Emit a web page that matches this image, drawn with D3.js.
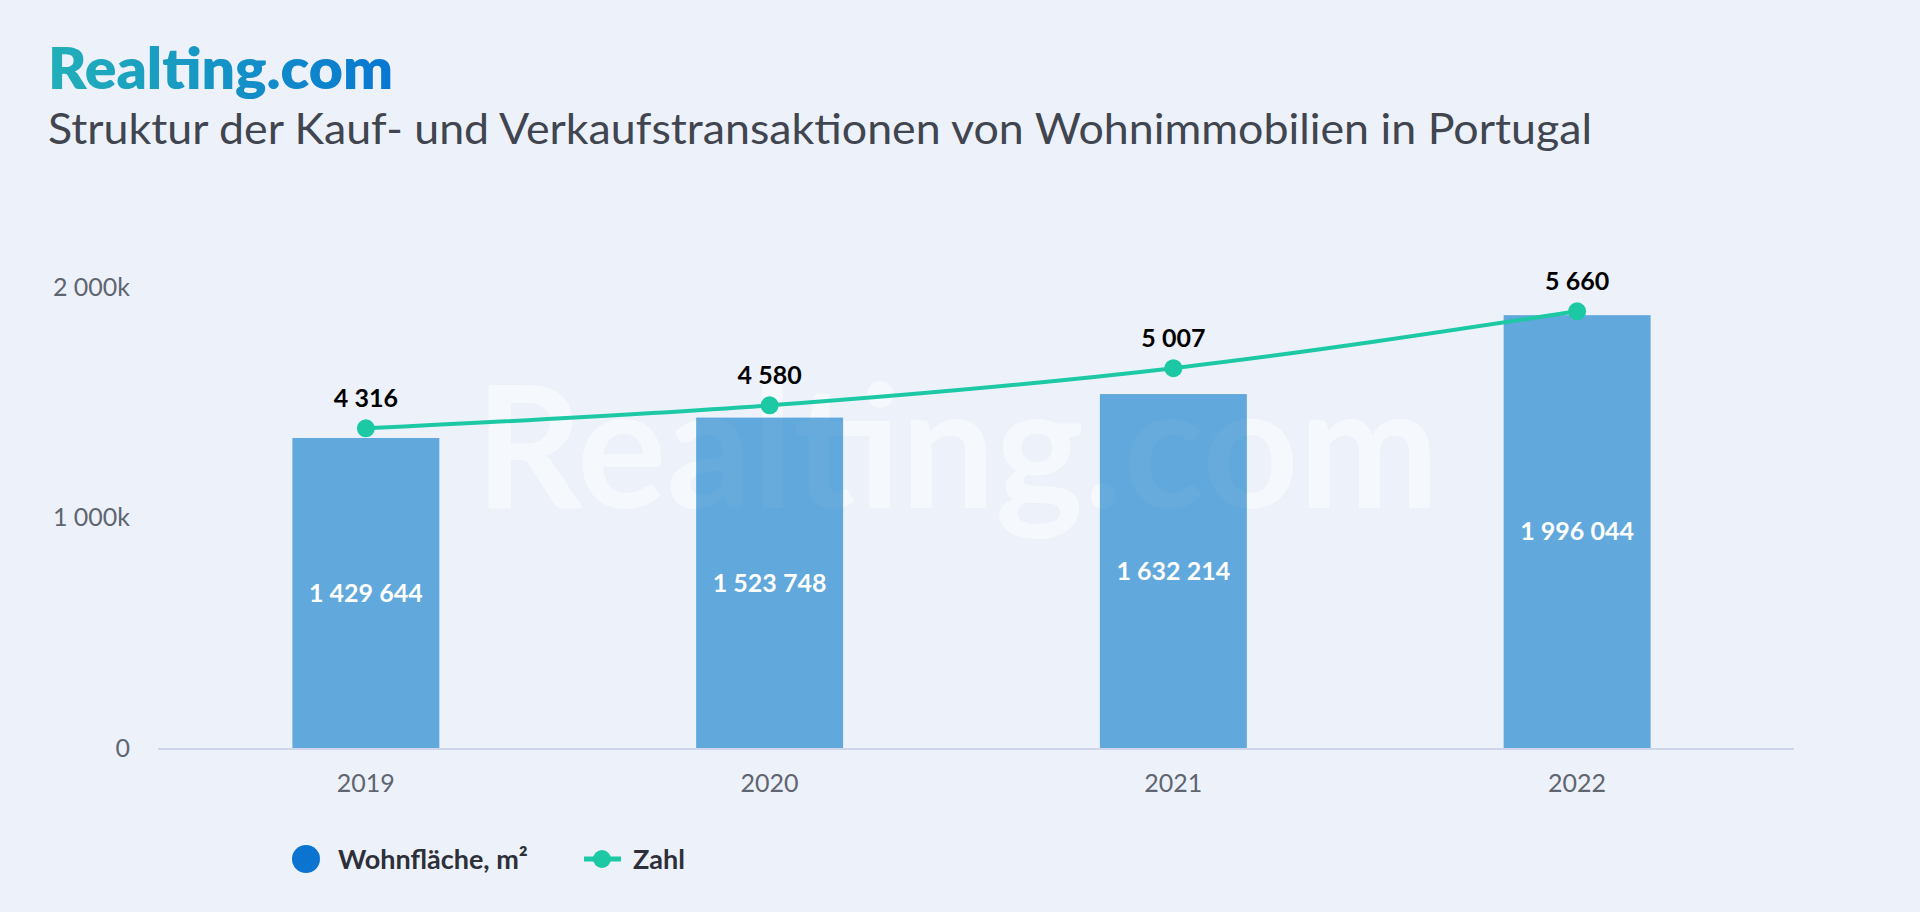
<!DOCTYPE html>
<html>
<head>
<meta charset="utf-8">
<script src="https://cdn.jsdelivr.net/npm/d3@7"></script>
<style>
body{margin:0;background:#edf2fa;}
svg{display:block;font-family:Lato,"Noto Sans",sans-serif;}
</style>
</head>
<body>
<script>
// data
var years=["2019","2020","2021","2022"];
var area=[1429644,1523748,1632214,1996044];   // Wohnfläche, m²
var count=[4316,4580,5007,5660];               // Zahl
var yTicks=[0,1000000,2000000];
var yTickLabels=["0","1 000k","2 000k"];

var width=1920, height=912;
var fmt=function(v){return d3.format(",")(v).replace(/,/g," ");};

var svg=d3.select("body").append("svg")
    .attr("width",width)
    .attr("height",height);

svg.append("rect").attr("width",width).attr("height",height).attr("fill","#edf2fa");

// logo gradient
var grad=svg.append("defs").append("linearGradient")
    .attr("id","logoGrad").attr("x1","0").attr("x2","1").attr("y1","0").attr("y2","0");
grad.append("stop").attr("offset","0").attr("stop-color","#22b0b9");
grad.append("stop").attr("offset","1").attr("stop-color","#0877d2");

svg.append("text")
    .attr("x",48).attr("y",89)
    .attr("font-size",56).attr("font-weight",800)
    .attr("fill","url(#logoGrad)")
    .attr("textLength",345).attr("lengthAdjust","spacingAndGlyphs")
    .text("Realting.com");

svg.append("text")
    .attr("x",48).attr("y",144)
    .attr("font-size",43).attr("font-weight",400)
    .attr("fill","#40454f")
    .attr("textLength",1544).attr("lengthAdjust","spacingAndGlyphs")
    .text("Struktur der Kauf- und Verkaufstransaktionen von Wohnimmobilien in Portugal");

// scales
const xScale=d3.scaleBand()
    .domain(years)
    .range([164,1779])
    .paddingInner(0.636)
    .paddingOuter(0.318);
const yAxisScale=d3.scaleLinear().domain([0,2000000]).range([748,287]);
const yBar=d3.scaleLinear().domain([0,2126000]).range([748,287]);
const yLine=d3.scaleLinear().domain([0,6000]).range([804,281.7]);

// watermark (behind the marks)
svg.append("text")
    .attr("x",957).attr("y",508)
    .attr("text-anchor","middle")
    .attr("font-size",170).attr("font-weight",700)
    .attr("fill","#ffffff").attr("fill-opacity",0.45)
    .attr("textLength",964).attr("lengthAdjust","spacingAndGlyphs")
    .text("Realting.com");

// y axis labels
svg.append("g")
    .selectAll("text")
    .data(yTicks)
    .enter()
    .append("text")
        .attr("x",130)
        .attr("y",(d)=>yAxisScale(d))
        .attr("dy","0.35em")
        .attr("text-anchor","end")
        .attr("font-size",25)
        .attr("fill","#5f6571")
        .text((d,i)=>yTickLabels[i]);

// bars
svg.append("g")
    .selectAll("rect")
    .data(area)
    .enter()
    .append("rect")
        .attr("x",(d,i)=>xScale(years[i]))
        .attr("y",(d)=>yBar(d))
        .attr("width",xScale.bandwidth())
        .attr("height",(d)=>yBar(0)-yBar(d))
        .attr("fill","#61a8dc");

// faint watermark over the bars
svg.append("text")
    .attr("x",957).attr("y",508)
    .attr("text-anchor","middle")
    .attr("font-size",170).attr("font-weight",700)
    .attr("fill","#ffffff").attr("fill-opacity",0.04)
    .attr("textLength",964).attr("lengthAdjust","spacingAndGlyphs")
    .text("Realting.com");

// x axis line
svg.append("line")
    .attr("x1",158).attr("x2",1794)
    .attr("y1",yBar(0)+1).attr("y2",yBar(0)+1)
    .attr("stroke","#cfd6ec").attr("stroke-width",2);

// x labels
svg.append("g")
    .selectAll("text")
    .data(years)
    .enter()
    .append("text")
        .attr("x",(d)=>xScale(d)+xScale.bandwidth()/2)
        .attr("y",783)
        .attr("dy","0.35em")
        .attr("text-anchor","middle")
        .attr("font-size",25)
        .attr("fill","#5f6571")
        .text((d)=>d);

// bar labels
svg.append("g")
    .selectAll("text")
    .data(area)
    .enter()
    .append("text")
        .attr("x",(d,i)=>xScale(years[i])+xScale.bandwidth()/2)
        .attr("y",(d)=>(yBar(d)+yBar(0))/2)
        .attr("dy","0.35em")
        .attr("text-anchor","middle")
        .attr("font-size",25).attr("font-weight",700)
        .attr("fill","#ffffff")
        .text((d)=>fmt(d));

// line
var pts=count.map((v,i)=>[xScale(years[i])+xScale.bandwidth()/2,yLine(v)]);
svg.append("path")
    .attr("d",d3.line().curve(d3.curveMonotoneX)(pts))
    .attr("fill","none")
    .attr("stroke","#1cc9a4")
    .attr("stroke-width",4);

svg.append("g")
    .selectAll("circle")
    .data(count)
    .enter()
    .append("circle")
        .attr("cx",(d,i)=>xScale(years[i])+xScale.bandwidth()/2)
        .attr("cy",(d)=>yLine(d))
        .attr("r",9)
        .attr("fill","#1cc9a4");

svg.append("g")
    .selectAll("text")
    .data(count)
    .enter()
    .append("text")
        .attr("x",(d,i)=>xScale(years[i])+xScale.bandwidth()/2)
        .attr("y",(d)=>yLine(d)-21)
        .attr("text-anchor","middle")
        .attr("font-size",25).attr("font-weight",700)
        .attr("fill","#000000")
        .text((d)=>fmt(d));

// legend
var legend=svg.append("g");
legend.append("circle").attr("cx",306).attr("cy",859).attr("r",14).attr("fill","#0a74d0");
legend.append("text")
    .attr("x",338).attr("y",869)
    .attr("font-size",27).attr("font-weight",700)
    .attr("fill","#2d3039")
    .text("Wohnfläche, m²");
legend.append("line")
    .attr("x1",584).attr("x2",621).attr("y1",859).attr("y2",859)
    .attr("stroke","#1cc9a4").attr("stroke-width",5);
legend.append("circle").attr("cx",602).attr("cy",859).attr("r",9).attr("fill","#1cc9a4");
legend.append("text")
    .attr("x",633).attr("y",869)
    .attr("font-size",27).attr("font-weight",700)
    .attr("fill","#2d3039")
    .text("Zahl");
</script>
</body>
</html>
